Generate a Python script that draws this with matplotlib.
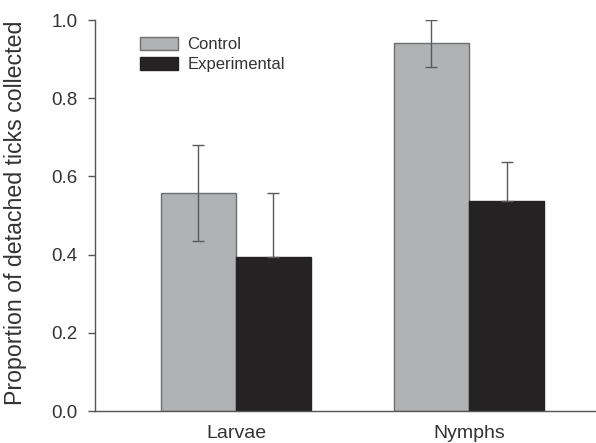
import matplotlib
matplotlib.use('Agg')
import matplotlib.pyplot as plt
import numpy as np

plt.rcParams['font.family'] = ['Liberation Sans', 'DejaVu Sans']

stages = ['Larvae', 'Nymphs']
control = [0.558, 0.940]
control_err = [0.123, 0.060]
experimental = [0.393, 0.536]
experimental_err = [0.164, 0.102]

x = np.arange(len(stages))
w = 0.322
axis_col = '#555555'
text_col = '#333333'

fig = plt.figure(figsize=(5.96, 4.43), dpi=100)
ax = fig.add_axes([0.1594, 0.0722, 0.8406, 0.8826])

ax.bar(x - w / 2, control, w, color='#b1b2b4', edgecolor='#6e6e6e', linewidth=1, label='Control', zorder=2)
ax.bar(x + w / 2, experimental, w, color='#242223', edgecolor='#242223', linewidth=1, label='Experimental', zorder=2)

ax.errorbar(x - w / 2, control, yerr=control_err, fmt='none', ecolor='#5a5a5a', elinewidth=1, capsize=4, capthick=1, zorder=3)
# lower half of experimental bars is hidden in the black bar
ax.errorbar(x + w / 2, experimental, yerr=[[0, 0], experimental_err], fmt='none', ecolor='#5a5a5a', elinewidth=1, capsize=4, capthick=1, zorder=3)

ax.set_xlim(-0.605, 1.545)
ax.set_ylim(0, 1.0)
ax.set_yticks([0, 0.2, 0.4, 0.6, 0.8, 1.0])
ax.set_yticklabels(['0.0', '0.2', '0.4', '0.6', '0.8', '1.0'])
ax.set_xticks(x)
ax.set_xticklabels(stages)
ax.tick_params(axis='y', direction='out', length=5, width=1, color=axis_col, labelsize=13.5, labelcolor=text_col, pad=7.5)
ax.tick_params(axis='x', length=0, labelsize=14, labelcolor=text_col, pad=10)

for s in ['top', 'right']:
    ax.spines[s].set_visible(False)
for s in ['left', 'bottom']:
    ax.spines[s].set_color(axis_col)
    ax.spines[s].set_linewidth(1)

ax.set_ylabel('Proportion of detached ticks collected', fontsize=16.7, color=text_col)
ax.yaxis.set_label_coords(-0.135, 0.508)

ax.legend(loc='upper left', bbox_to_anchor=(0.073, 0.977), frameon=False, fontsize=12, borderpad=0,
          handlelength=2.3, handleheight=0.75, handletextpad=0.55, labelspacing=0.3, labelcolor=text_col)

fig.savefig('out.png', dpi=100)
